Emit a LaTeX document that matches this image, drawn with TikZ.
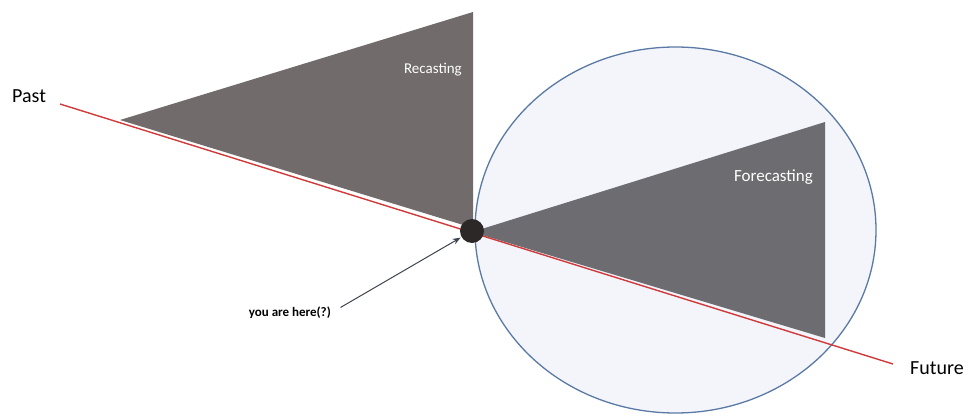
\documentclass[tikz,border=0pt]{standalone}
\usepackage{fontspec}
\setmainfont{Carlito}
\usepackage{tikz}
\usetikzlibrary{arrows.meta, positioning, calc}
\definecolor{wedgegray}{HTML}{716B6B}
\definecolor{foregray}{HTML}{6D6C70}
\definecolor{haze}{HTML}{F3F5FB}
\definecolor{rim}{HTML}{5A7AA5}
\definecolor{timeline}{HTML}{D03A3A}
\definecolor{pin}{HTML}{2D2828}
\definecolor{pointer}{HTML}{3D4450}

\begin{document}
\begin{tikzpicture}[
    x=1pt, y=-1pt,
    wedge/.style={fill=wedgegray, draw=none},
    wedgelabel/.style={text=white, font=\fontsize{15}{17}\selectfont, anchor=base east, inner sep=0pt},
    timelabel/.style={font=\fontsize{20}{24}\selectfont, anchor=base west, inner sep=0pt},
]
    \useasboundingbox (0,0) rectangle (969,415);
    % Future zone
    \draw[rim, line width=1.3pt, fill=haze] (675.5,230) ellipse [x radius=200.5, y radius=183];
    % Wedges
    \fill[wedge, fill=foregray] (472,232) -- (825,122) -- (825,338) -- cycle;
    \fill[wedge] (120,120) -- (473,12) -- (473,228) -- cycle;
    \node[wedgelabel] (recast) at (462,73) {Recasting};
    \node[wedgelabel, font=\fontsize{17}{19}\selectfont] (forecast) at (813,181) {Forecasting};
    % Time line
    \node[timelabel] (past) at (12,102) {Past};
    \node[timelabel] (future) at (910,374) {Future};
    \coordinate (pastend) at (60,104);
    \coordinate (futureend) at (893,364);
    \draw[timeline, line width=1.4pt] (pastend) -- (futureend);
    % Present
    \node[circle, fill=pin, minimum size=24pt, inner sep=0pt] (here) at (472,231) {};
    \node[font=\bfseries\fontsize{13}{15}\selectfont, anchor=east, inner sep=0pt] (youhere) at (331,313) {you are here(?)};
    \draw[pointer, line width=1pt, -{Stealth[length=8pt, width=6pt]}, shorten <=11pt, shorten >=1pt] (youhere.east) -- (here);
\end{tikzpicture}
\end{document}
